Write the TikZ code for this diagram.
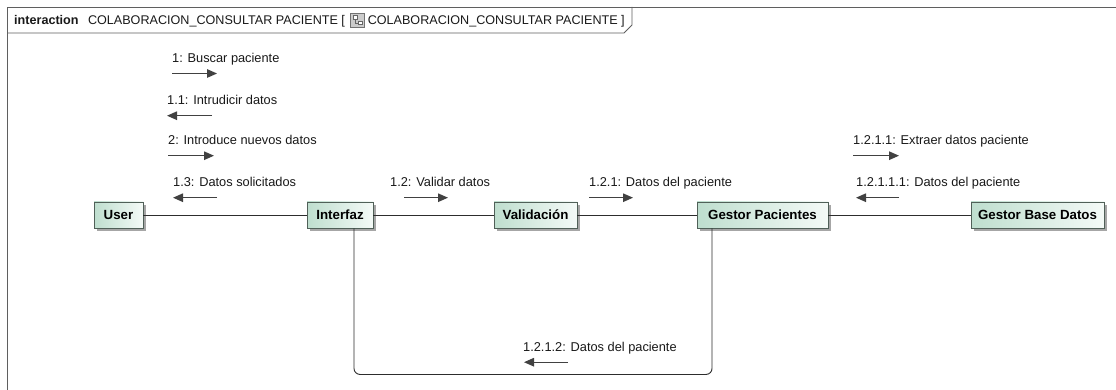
\documentclass[tikz,border=0pt]{standalone}
\usepackage{fontspec}
\setmainfont{Liberation Sans}
\usetikzlibrary{arrows.meta,shadows}
\definecolor{nodeL}{RGB}{190,222,206}
\definecolor{nodeR}{RGB}{244,250,247}
\definecolor{nodeB}{RGB}{80,96,88}
\definecolor{lineC}{RGB}{45,45,45}
\definecolor{msgC}{RGB}{65,65,65}
\definecolor{frameC}{RGB}{95,95,95}
\begin{document}
\begin{tikzpicture}[x=1pt,y=-1pt,
  lifeline/.style={draw=nodeB, line width=0.9pt, left color=nodeL, right color=nodeR,
    minimum height=26pt, inner sep=0pt, text=black,
    font=\fontsize{13.3}{15}\selectfont\bfseries,
    drop shadow={shadow xshift=3pt, shadow yshift=-3pt, fill=black!35, opacity=1}},
  link/.style={draw=lineC, line width=0.9pt},
  msglabel/.style={anchor=base west, inner sep=0pt, text=black!90,
    font=\fontsize{12.8}{15}\selectfont},
  msg/.style={draw=msgC, line width=1.2pt, -{Triangle[length=10pt,width=8.5pt]}},
  titlefont/.style={anchor=base west, inner sep=0pt, text=black!90,
    font=\fontsize{12.6}{14}\selectfont}
]
\useasboundingbox[fill=white] (0,0) rectangle (1116,390);

% frame
\draw[frameC, line width=0.9pt] (7,390) -- (7,7) -- (1116,7);
\draw[frameC, line width=0.9pt] (7,33) -- (624,33) -- (632,25) -- (632,7);

% title
\node[titlefont, font=\fontsize{12.6}{14}\selectfont\bfseries] (t1) at (14,24.5) {interaction};
\node[titlefont] (t2) at ([xshift=9pt]t1.base east) {COLABORACION\_CONSULTAR PACIENTE [};
\node[draw=black!55, fill=black!20, minimum size=14pt, inner sep=0pt, anchor=west]
  (icon) at ([xshift=5pt,yshift=4.4pt]t2.base east) {};
\draw[black!60, fill=white] ([shift={(-4.5pt,1pt)}]icon.center) rectangle ([shift={(-0.5pt,4.5pt)}]icon.center);
\draw[black!60, fill=white] ([shift={(0.5pt,-4.5pt)}]icon.center) rectangle ([shift={(4.5pt,-1pt)}]icon.center);
\draw[black!60] ([shift={(-2.5pt,1pt)}]icon.center) |- ([shift={(0.5pt,-2.7pt)}]icon.center);
\node[titlefont] (t3) at ([xshift=3pt,yshift=-4.4pt]icon.east) {COLABORACION\_CONSULTAR PACIENTE ]};

% lifelines
\node[lifeline, minimum width=49pt]  (user) at (118.5,215) {User};
\node[lifeline, minimum width=66pt]  (interfaz) at (340,215) {Interfaz};
\node[lifeline, minimum width=83pt]  (valid) at (535.5,215) {Validación};
\node[lifeline, minimum width=131pt] (gp) at (762.5,215) {Gestor Pacientes};
\node[lifeline, minimum width=133pt] (gbd) at (1037.5,215) {Gestor Base Datos};

% links
\draw[link] (user) -- (interfaz);
\draw[link] (interfaz) -- (valid);
\draw[link] (valid) -- (gp);
\draw[link] (gp) -- (gbd);
\draw[link, rounded corners=6pt] ([xshift=14pt]interfaz.south) -- ++(0,146) -| ([xshift=-50.5pt]gp.south);

% messages
\node[msglabel] (m1) at (172,62.7) {1: Buscar paciente};
\draw[msg] ([yshift=-10.8pt]m1.base west) -- ++(45,0);

\node[msglabel] (m11) at (167,104.7) {1.1: Intrudicir datos};
\draw[msg] ([xshift=45pt,yshift=-11pt]m11.base west) -- ++(-45,0);

\node[msglabel] (m2) at (168,144.7) {2: Introduce nuevos datos};
\draw[msg] ([yshift=-11pt]m2.base west) -- ++(46,0);

\node[msglabel] (m13) at (173,186.7) {1.3: Datos solicitados};
\draw[msg] ([xshift=44pt,yshift=-11pt]m13.base west) -- ++(-44,0);

\node[msglabel] (m12) at (390,186.7) {1.2: Validar datos};
\draw[msg] ([xshift=14pt,yshift=-11pt]m12.base west) -- ++(44,0);

\node[msglabel] (m121) at (589,186.7) {1.2.1: Datos del paciente};
\draw[msg] ([yshift=-11pt]m121.base west) -- ++(44,0);

\node[msglabel] (m1211) at (853,144.7) {1.2.1.1: Extraer datos paciente};
\draw[msg] ([yshift=-11pt]m1211.base west) -- ++(46,0);

\node[msglabel] (m12111) at (856,186.7) {1.2.1.1.1: Datos del paciente};
\draw[msg] ([xshift=43pt,yshift=-11pt]m12111.base west) -- ++(-43,0);

\node[msglabel] (m1212) at (523,351.7) {1.2.1.2: Datos del paciente};
\draw[msg] ([xshift=45pt,yshift=-10.5pt]m1212.base west) -- ++(-44,0);
\end{tikzpicture}
\end{document}
